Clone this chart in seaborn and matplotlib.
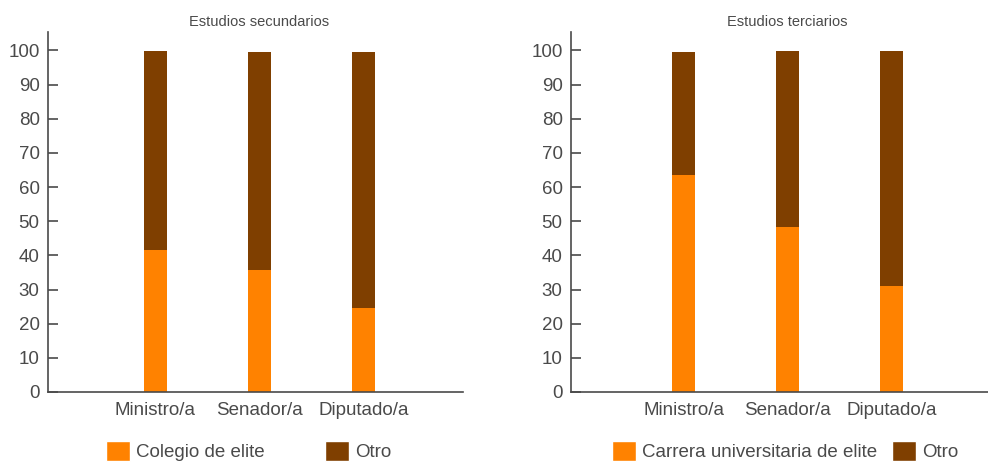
import numpy as np
import pandas as pd
import seaborn as sns
import matplotlib.pyplot as plt
from matplotlib.patches import Patch
from matplotlib.transforms import blended_transform_factory

# Data (percent)
cargos = ["Ministro/a", "Senador/a", "Diputado/a"]
colegio_elite = [41.6, 35.7, 24.6]
otro_sec = [58.2, 63.8, 74.9]
carrera_elite = [63.5, 48.3, 31.0]
otro_ter = [36.0, 51.5, 68.8]

ORANGE = "#FF8200"
BROWN = "#7F3F00"
GREY = "#4a4a4a"

sns.set_style("white")
plt.rcParams["font.family"] = ["Liberation Sans", "DejaVu Sans"]

fig = plt.figure(figsize=(9.88, 4.63), dpi=100)
ax1 = fig.add_axes([48 / 988, 71 / 463, 415 / 988, 360 / 463])
ax2 = fig.add_axes([571 / 988, 71 / 463, 417 / 988, 360 / 463])

# axes, elite share, otro, title, elite legend label, xlim, legend x positions (px)
panels = [
    (ax1, colegio_elite, otro_sec, "Estudios secundarios", "Colegio de elite",
     (-1.032, 2.959), (106, 325)),
    (ax2, carrera_elite, otro_ter, "Estudios terciarios", "Carrera universitaria de elite",
     (-1.082, 2.928), (612, 892)),
]

for ax, elite, otro, title, elite_label, xlim, leg_xs in panels:
    df = pd.DataFrame({"cargo": cargos, "elite": elite, "otro": otro})
    df["total"] = df["elite"] + df["otro"]

    # brown full-height bar underneath, orange elite share on top
    sns.barplot(data=df, x="cargo", y="total", color=BROWN, width=0.22,
                saturation=1, linewidth=0, ax=ax)
    sns.barplot(data=df, x="cargo", y="elite", color=ORANGE, width=0.22,
                saturation=1, linewidth=0, ax=ax)

    ax.set_xlim(*xlim)
    ax.set_ylim(0, 105.4)
    ax.set_yticks(np.arange(0, 101, 10))
    ax.set_xlabel("")
    ax.set_ylabel("")
    sns.despine(ax=ax)
    for side in ["left", "bottom"]:
        ax.spines[side].set_color(GREY)
        ax.spines[side].set_linewidth(1.2)
    ax.tick_params(axis="y", direction="in", length=7, width=1.2, color=GREY,
                   labelcolor=GREY, labelsize=13.5, pad=6, left=True)
    ax.tick_params(axis="x", length=0, labelcolor=GREY, labelsize=13.5, pad=7)

    trans = blended_transform_factory(ax.transData, fig.transFigure)
    ax.text(1, 1 - 22 / 463, title, transform=trans, ha="center", va="center",
            fontsize=10.5, color=GREY)

    # one legend per entry so each sits where the reference has it
    for lx, (col, lab) in zip(leg_xs, [(ORANGE, elite_label), (BROWN, "Otro")]):
        fig.legend(handles=[Patch(facecolor=col, label=lab)], loc="center left",
                   frameon=False, bbox_to_anchor=(lx / 988, 12 / 463),
                   borderpad=0, borderaxespad=0, handlelength=1.3,
                   handleheight=1.3, handletextpad=0.3, fontsize=13.5,
                   labelcolor=GREY)

fig.savefig("out.png", dpi=100)
